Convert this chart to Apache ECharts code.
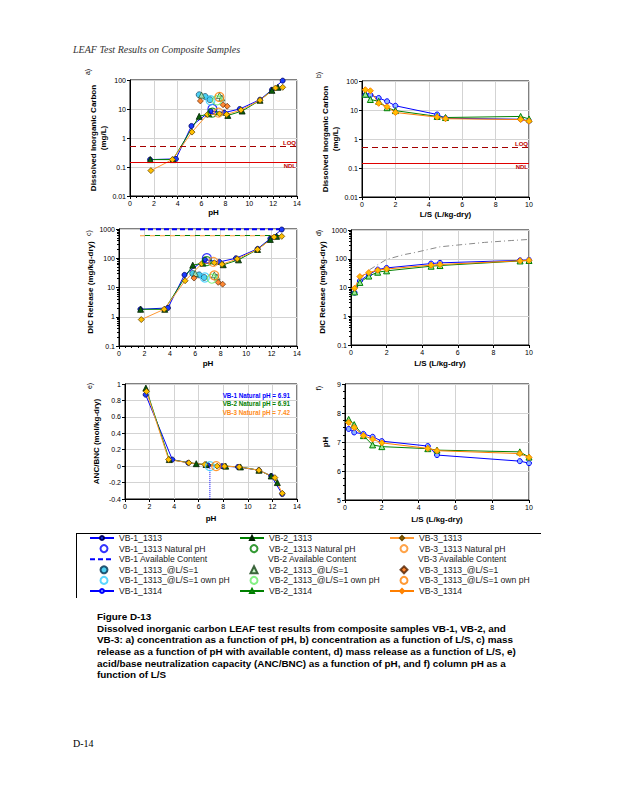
<!DOCTYPE html>
<html><head><meta charset="utf-8">
<script src="https://cdn.jsdelivr.net/npm/echarts@6/dist/echarts.min.js"></script>
<style>html,body{margin:0;padding:0;background:#fff}#c{width:618px;height:800px}</style>
</head><body><div id="c"></div>
<script>
// ---------- DATA ----------
// Method 1313 (pH dependence)
const vb1_pH = [1.68, 3.85, 5.15, 6.75, 7.9, 9.2, 10.9, 11.9, 12.8];
const vb1_conc = [0.18, 0.19, 2.6, 8.5, 7.5, 10, 21, 46, 95];
const vb1_mass = [1.8, 2.0, 27, 90, 75, 100, 210, 470, 960];
const vb1_anc = [0.87, 0.08, 0.04, 0.01, 0.0, -0.01, -0.05, -0.12, -0.34];

const vb2_pH = [1.7, 3.6, 5.8, 6.6, 8.2, 9.4, 10.9, 11.9, 12.4];
const vb2_conc = [0.18, 0.18, 5.6, 6.8, 6.0, 8.5, 20, 44, 56];
const vb2_mass = [1.8, 1.8, 58, 68, 60, 88, 200, 440, 560];
const vb2_anc = [0.95, 0.08, 0.03, 0.02, 0.0, -0.01, -0.05, -0.12, -0.2];

const vb3_pH = [1.75, 3.55, 5.2, 6.5, 7.5, 8.1, 9.3, 10.9, 12.2, 12.8];
const vb3_conc = [0.075, 0.18, 1.6, 6.5, 6.8, 6.5, 9.2, 20, 53, 56];
const vb3_mass = [0.8, 1.8, 17, 65, 70, 62, 95, 200, 530, 560];
const vb3_anc = [0.91, 0.08, 0.04, 0.02, 0.0, 0.0, -0.01, -0.05, -0.14, -0.33];

// Natural pH
const naturalPH = [6.91, 6.91, 7.42];
const natural_conc = [10, 7.5, 7.5];
const natural_mass = [100, 80, 75];
const natural_anc = [0, 0, 0];

// 1313 @ L/S=1
const vb1_ls1_pH = [5.8, 6.3, 6.7];
const vb1_ls1_conc = [31, 27, 21];
const vb1_ls1_mass = [30, 27, 22];
const vb2_ls1_pH = [6.0, 7.5, 7.7];
const vb2_ls1_conc = [30, 29, 24];
const vb2_ls1_mass = [30, 27, 23];
const vb3_ls1_pH = [5.9, 7.8, 8.15];
const vb3_ls1_conc = [19, 14, 12.5];
const vb3_ls1_mass = [21, 15, 13];
// own pH @ L/S=1
const ownPH = [6.75, 7.3, 7.5];
const own_conc = [20, 20, 26];
const own_mass = [22, 20, 26];

// Available content (mg/kg-dry)
const availContent = [980, 600, 590];
const availRange = [1.65, 12.8];

// Method 1314 (column)
const LS = [0.2, 0.5, 1, 1.5, 2, 4.5, 5, 9.5, 10];
const vb1_1314_conc = [33, 33, 26, 20, 14, 7, 5.2, 4.8, 4.2];
const vb2_1314_conc = [35, 23, 20, 12, 9.5, 6, 5.5, 6, 4.9];
const vb3_1314_conc = [50, 46, 17, 13, 8.2, 5.7, 5, 4.7, 4.1];
const vb1_1314_cum = [6.6, 17, 28, 42, 48, 68, 72, 88, 91];
const vb2_1314_cum = [7, 15, 25, 34, 38, 55, 58, 84, 87];
const vb3_1314_cum = [9.4, 24, 33, 40, 44, 60, 63, 85, 88];
const vb1_1314_pH = [7.45, 7.33, 7.28, 7.18, 7.03, 6.86, 6.55, 6.34, 6.27];
const vb2_1314_pH = [7.78, 7.6, 7.22, 6.9, 6.84, 6.77, 6.72, 6.66, 6.48];
const vb3_1314_pH = [7.67, 7.5, 7.22, 7.1, 6.97, 6.78, 6.7, 6.6, 6.47];
// grey reference curve in d)
const refLS = [0.2, 0.5, 1, 1.5, 2, 3, 3.5, 5, 6, 7.5, 9, 10];
const refCum = [8, 20, 40, 62, 95, 140, 160, 260, 300, 370, 430, 470];

const LOQ = 0.5, NDL = 0.15;

// ---------- HELPERS ----------
const zip = (x, y) => x.map((v, i) => [v, y[i]]);
const FF = 'Liberation Sans';
const BLUE = '#0000ff', GREEN = '#008000', ORANGE = '#ff9933';

const S = {
  vb1_1313: {symbol: 'circle', size: 5, item: {color: '#1a3cff', borderColor: '#000060', borderWidth: 0.8}, line: BLUE},
  vb2_1313: {symbol: 'triangle', size: 6, item: {color: '#0b5e0b', borderColor: '#002000', borderWidth: 0.8}, line: GREEN},
  vb3_1313: {symbol: 'diamond', size: 6, item: {color: '#ffc000', borderColor: '#6b4a00', borderWidth: 0.8}, line: ORANGE},
  vb1_1314: {symbol: 'circle', size: 5, item: {color: '#8fb4ff', borderColor: BLUE, borderWidth: 1}, line: BLUE},
  vb2_1314: {symbol: 'triangle', size: 6, item: {color: '#9be89b', borderColor: GREEN, borderWidth: 1}, line: GREEN},
  vb3_1314: {symbol: 'diamond', size: 6, item: {color: '#ffc000', borderColor: '#ff7f00', borderWidth: 1}, line: '#ff7f00'}
};

function lineSeries(name, gi, data, st, extra) {
  return Object.assign({
    name, type: 'line', xAxisIndex: gi, yAxisIndex: gi, data,
    symbol: st.symbol, symbolSize: st.size, showSymbol: true,
    lineStyle: {color: st.line, width: 1}, itemStyle: st.item,
    emphasis: {disabled: true}, animation: false, z: 3
  }, extra || {});
}
function scatter(name, gi, data, symbol, size, item) {
  return {name, type: 'scatter', xAxisIndex: gi, yAxisIndex: gi, data, symbol, symbolSize: size,
    itemStyle: item, emphasis: {disabled: true}, animation: false, z: 4};
}
const lbl = {fontSize: 7, color: '#000', fontFamily: FF, margin: 4};
const logLbl = Object.assign({formatter: v => String(v)}, lbl);
const nameTS = {fontSize: 8, fontWeight: 'bold', color: '#000', fontFamily: FF};
const split = {show: true, lineStyle: {color: '#d3d3d3', width: 1}};
const axLine = {show: true, onZero: false, lineStyle: {color: '#000', width: 1}};
const tick = {show: true, length: 3, lineStyle: {color: '#000'}};

function xAx(gi, max, name, gap, minor) {
  return {type: 'value', gridIndex: gi, min: 0, max, interval: 2, name, nameLocation: 'middle', nameGap: gap,
    nameTextStyle: nameTS, axisLine: axLine, axisTick: tick,
    minorTick: {show: !!minor, splitNumber: 4, length: 2, lineStyle: {color: '#000'}},
    splitLine: split, axisLabel: lbl};
}
function yLog(gi, min, max, name, gap) {
  return {type: 'log', logBase: 10, gridIndex: gi, min, max, name, nameLocation: 'middle', nameGap: gap,
    nameRotate: 90, nameTextStyle: Object.assign({lineHeight: 10}, nameTS), axisLine: axLine, axisTick: tick,
    splitLine: split, axisLabel: logLbl};
}
function minorLogAxis(gi, min, max) {
  const vals = [];
  for (let e = Math.log10(min); e < Math.log10(max); e++) {
    for (let k = 1; k <= 9; k++) vals.push(+(k * Math.pow(10, e)).toPrecision(3));
  }
  return {type: 'log', gridIndex: gi, min, max, position: 'left', axisLine: {show: false},
    axisTick: {show: true, length: 2, customValues: vals, lineStyle: {color: '#000'}},
    axisLabel: {show: false}, splitLine: {show: false}};
}

const grids = [
  {left: 130, top: 80, width: 167, height: 116},
  {left: 362, top: 81, width: 167, height: 116},
  {left: 119, top: 229, width: 178, height: 117},
  {left: 351, top: 230, width: 178, height: 115},
  {left: 125, top: 384, width: 172, height: 115},
  {left: 345, top: 384, width: 184, height: 116}
].map(g => Object.assign({show: true, borderColor: '#000', borderWidth: 1, backgroundColor: 'transparent'}, g));

const xAxes = [
  xAx(0, 14, 'pH', 12, true),
  xAx(1, 10, 'L/S (L/kg-dry)', 13, false),
  xAx(2, 14, 'pH', 13, true),
  xAx(3, 10, 'L/S (L/kg-dry)', 14, false),
  xAx(4, 14, 'pH', 15, false),
  xAx(5, 10, 'L/S (L/kg-dry)', 15, false)
];
const yAxes = [
  yLog(0, 0.01, 100, 'Dissolved Inorganic Carbon\n(mg/L)', 20),
  yLog(1, 0.01, 100, 'Dissolved Inorganic Carbon\n(mg/L)', 20),
  yLog(2, 0.1, 1000, 'DIC Release (mg/kg-dry)', 22),
  yLog(3, 0.1, 1000, 'DIC Release (mg/kg-dry)', 22),
  {type: 'value', gridIndex: 4, min: -0.4, max: 1, interval: 0.2, name: 'ANC/BNC (mol/kg-dry)', nameLocation: 'middle',
    nameGap: 25, nameRotate: 90, nameTextStyle: nameTS, axisLine: axLine, axisTick: tick, splitLine: split, axisLabel: lbl},
  {type: 'value', gridIndex: 5, min: 5, max: 9, interval: 1, name: 'pH', nameLocation: 'middle', nameGap: 16,
    nameRotate: 90, nameTextStyle: nameTS, axisLine: axLine, axisTick: tick,
    minorTick: {show: true, splitNumber: 4, length: 2, lineStyle: {color: '#000'}}, splitLine: split, axisLabel: lbl},
  minorLogAxis(2, 0.1, 1000),
  minorLogAxis(3, 0.1, 1000)
];

const limitLines = {
  silent: true, symbol: 'none', animation: false,
  data: [
    {yAxis: LOQ, lineStyle: {type: [6, 4], color: '#a40000', width: 1.2},
      label: {formatter: 'LOQ', position: 'insideEndTop', color: '#c00000', fontSize: 6, fontWeight: 'bold', fontFamily: FF, distance: 1}},
    {yAxis: NDL, lineStyle: {type: 'solid', color: '#e00000', width: 1.2},
      label: {formatter: 'NDL', position: 'insideEndBottom', color: '#c00000', fontSize: 6, fontWeight: 'bold', fontFamily: FF, distance: 1}}
  ]
};

const openCircle = c => ({color: 'rgba(255,255,255,0)', borderColor: c, borderWidth: 1.2});
const series = [];

// --- panel a (0) and c (2) ---
[[0, [vb1_conc, vb2_conc, vb3_conc], natural_conc, [vb1_ls1_conc, vb2_ls1_conc, vb3_ls1_conc], own_conc],
 [2, [vb1_mass, vb2_mass, vb3_mass], natural_mass, [vb1_ls1_mass, vb2_ls1_mass, vb3_ls1_mass], own_mass]]
.forEach(([gi, ys, nat, ls1, own]) => {
  if (gi === 2) {
    series.push({name: 'VB-2 Available Content', type: 'line', xAxisIndex: 2, yAxisIndex: 2, symbol: 'none',
      data: availRange.map(p => [p, availContent[1]]), lineStyle: {color: GREEN, width: 1.1, type: [5, 5], dashOffset: 5},
      animation: false, z: 2});
    series.push({name: 'VB-3 Available Content', type: 'line', xAxisIndex: 2, yAxisIndex: 2, symbol: 'none',
      data: availRange.map(p => [p, availContent[2]]), lineStyle: {color: ORANGE, width: 1.1, type: [5, 5]},
      animation: false, z: 2});
    series.push({name: 'VB-1 Available Content', type: 'line', xAxisIndex: 2, yAxisIndex: 2, symbol: 'none',
      data: availRange.map(p => [p, availContent[0]]), lineStyle: {color: BLUE, width: 2, type: [5, 3]},
      animation: false, z: 2});
  }
  series.push(lineSeries('VB-1_1313', gi, zip(vb1_pH, ys[0]), S.vb1_1313, gi === 0 ? {markLine: limitLines} : {}));
  series.push(lineSeries('VB-2_1313', gi, zip(vb2_pH, ys[1]), S.vb2_1313));
  series.push(lineSeries('VB-3_1313', gi, zip(vb3_pH, ys[2]), S.vb3_1313));
  series.push(scatter('VB-1_1313 Natural pH', gi, [[naturalPH[0], nat[0]]], 'circle', 9, openCircle(BLUE)));
  series.push(scatter('VB-2_1313 Natural pH', gi, [[naturalPH[1], nat[1]]], 'circle', 9, openCircle(GREEN)));
  series.push(scatter('VB-3_1313 Natural pH', gi, [[naturalPH[2], nat[2]]], 'circle', 9, openCircle('#ff8c1a')));
  series.push(scatter('VB-1_1313_@L/S=1', gi, zip(vb1_ls1_pH, ls1[0]), 'circle', 6, {color: '#22c4f0', borderColor: '#003050', borderWidth: 0.8}));
  series.push(scatter('VB-2_1313_@L/S=1', gi, zip(vb2_ls1_pH, ls1[1]), 'triangle', 6, {color: '#b8f0b8', borderColor: '#104010', borderWidth: 0.8}));
  series.push(scatter('VB-3_1313_@L/S=1', gi, zip(vb3_ls1_pH, ls1[2]), 'diamond', 6, {color: '#ff6a00', borderColor: '#502000', borderWidth: 0.8}));
  series.push(scatter('VB-1_1313_@L/S=1 own pH', gi, [[ownPH[0], own[0]]], 'circle', 9, openCircle('#33ccff')));
  series.push(scatter('VB-2_1313_@L/S=1 own pH', gi, [[ownPH[1], own[1]]], 'circle', 9, openCircle('#66ee66')));
  series.push(scatter('VB-3_1313_@L/S=1 own pH', gi, [[ownPH[2], own[2]]], 'circle', 9, openCircle('#ff8000')));
});

// --- panel e (4) ---
series.push({name: 'natural pH marker', type: 'line', xAxisIndex: 4, yAxisIndex: 4, symbol: 'none',
  data: [[naturalPH[0], 0], [naturalPH[0], -0.4]], lineStyle: {color: BLUE, width: 1, type: 'dotted'}, animation: false, z: 2});
series.push(lineSeries('VB-1_1313', 4, zip(vb1_pH, vb1_anc), S.vb1_1313));
series.push(lineSeries('VB-2_1313', 4, zip(vb2_pH, vb2_anc), S.vb2_1313));
series.push(lineSeries('VB-3_1313', 4, zip(vb3_pH, vb3_anc), S.vb3_1313));
series.push(scatter('VB-1_1313_@L/S=1 own pH', 4, [[naturalPH[0], natural_anc[0]]], 'circle', 9, openCircle('#33ccff')));
series.push(scatter('VB-3_1313_@L/S=1 own pH', 4, [[naturalPH[2], natural_anc[2]]], 'circle', 9, openCircle('#ff8000')));

// --- panel b (1), d (3), f (5) ---
series.push(lineSeries('VB-1_1314', 1, zip(LS, vb1_1314_conc), S.vb1_1314, {markLine: limitLines}));
series.push(lineSeries('VB-2_1314', 1, zip(LS, vb2_1314_conc), S.vb2_1314));
series.push(lineSeries('VB-3_1314', 1, zip(LS, vb3_1314_conc), S.vb3_1314));
series.push({name: 'reference', type: 'line', xAxisIndex: 3, yAxisIndex: 3, symbol: 'none', data: zip(refLS, refCum),
  lineStyle: {color: '#8a8a8a', width: 1, type: [6, 3, 1, 3]}, animation: false, z: 2});
series.push(lineSeries('VB-1_1314', 3, zip(LS, vb1_1314_cum), S.vb1_1314));
series.push(lineSeries('VB-2_1314', 3, zip(LS, vb2_1314_cum), S.vb2_1314));
series.push(lineSeries('VB-3_1314', 3, zip(LS, vb3_1314_cum), S.vb3_1314));
series.push(lineSeries('VB-1_1314', 5, zip(LS, vb1_1314_pH), S.vb1_1314));
series.push(lineSeries('VB-2_1314', 5, zip(LS, vb2_1314_pH), S.vb2_1314));
series.push(lineSeries('VB-3_1314', 5, zip(LS, vb3_1314_pH), S.vb3_1314));

// ---------- LEGEND (one component per entry, laid out in 3 columns x 6 rows) ----------
const legendCols = [
  ['VB-1_1313', 'VB-1_1313 Natural pH', 'VB-1 Available Content', 'VB-1_1313_@L/S=1', 'VB-1_1313_@L/S=1 own pH', 'VB-1_1314'],
  ['VB-2_1313', 'VB-2_1313 Natural pH', 'VB-2 Available Content', 'VB-2_1313_@L/S=1', 'VB-2_1313_@L/S=1 own pH', 'VB-2_1314'],
  ['VB-3_1313', 'VB-3_1313 Natural pH', 'VB-3 Available Content', 'VB-3_1313_@L/S=1', 'VB-3_1313_@L/S=1 own pH', 'VB-3_1314']
];
const colX = [89, 239, 389];
const legends = [];
legendCols.forEach((col, c) => col.forEach((name, r) => {
  const item = {name};
  if (r === 2) { if (c === 0) item.itemStyle = {opacity: 0}; else item.icon = 'none'; }
  const scatterRow = r === 1 || r === 3 || r === 4;
  legends.push({
    orient: 'horizontal', left: scatterRow ? colX[c] + 10.5 : colX[c], top: 533 + r * 10.6, padding: 0,
    itemWidth: scatterRow ? 7 : 24, itemHeight: scatterRow ? 7 : 5, symbolKeepAspect: true, selectedMode: false,
    textStyle: {fontSize: 8.6, color: '#222', fontFamily: FF, lineHeight: 10, padding: [0, 0, 0, scatterRow ? 6.5 : 0]},
    data: [item]
  });
}));

// ---------- TEXT / GRAPHICS ----------
const capFont = 'bold 9.9px "Liberation Sans"';
const caption = [
  'Dissolved inorganic carbon LEAF test results from composite samples VB-1, VB-2, and',
  'VB-3: a) concentration as a function of pH, b) concentration as a function of L/S, c) mass',
  'release as a function of pH with available content, d) mass release as a function of L/S, e)',
  'acid/base neutralization capacity (ANC/BNC) as a function of pH, and f) column pH as a',
  'function of L/S'
];
const graphic = [
  {type: 'text', left: 73, top: 44, z: 100, style: {text: 'LEAF Test Results on Composite Samples', font: 'italic 10px "Liberation Serif"', fill: '#333'}},
  {type: 'text', left: 97, top: 611, z: 100, style: {text: 'Figure D-13', font: capFont, fill: '#000'}},
  ...caption.map((t, i) => ({type: 'text', left: 97, top: 623 + i * 11.7, z: 100, style: {text: t, font: capFont, fill: '#000'}})),
  {type: 'text', left: 73, top: 738, z: 100, style: {text: 'D-14', font: '10px "Liberation Serif"', fill: '#000'}},
  {type: 'line', z: 100, shape: {x1: 76, y1: 533.5, x2: 541, y2: 533.5}, style: {stroke: '#000', lineWidth: 1}},
  {type: 'line', z: 100, shape: {x1: 76.5, y1: 533, x2: 76.5, y2: 598}, style: {stroke: '#000', lineWidth: 1}},
  ...[['a)', 87, 72], ['b)', 318, 75], ['c)', 88, 233], ['d)', 318, 233], ['e)', 89, 386], ['f)', 318, 388]].map(([t, x, y]) => ({
    type: 'text', x, y, z: 100, rotation: Math.PI / 2, style: {text: t, font: '7px "Liberation Sans"', fill: '#000', align: 'center', verticalAlign: 'middle'}})),
  ...[['VB-1 Natural pH = ' + naturalPH[0].toFixed(2), BLUE], ['VB-2 Natural pH = ' + naturalPH[1].toFixed(2), GREEN],
      ['VB-3 Natural pH = ' + naturalPH[2].toFixed(2), '#ff8c1a']].map(([t, c], i) => ({
    type: 'text', x: 290, y: 395 + i * 8.6, z: 100, style: {text: t, font: 'bold 6.3px "Liberation Sans"', fill: c, align: 'right', verticalAlign: 'middle'}}))
];

const chart = echarts.init(document.getElementById('c'), null, {renderer: 'svg', width: 618, height: 800});
chart.setOption({
  backgroundColor: '#fff', animation: false, textStyle: {fontFamily: FF},
  grid: grids, xAxis: xAxes, yAxis: yAxes, series, legend: legends, graphic, tooltip: {show: false}
});
</script></body></html>
